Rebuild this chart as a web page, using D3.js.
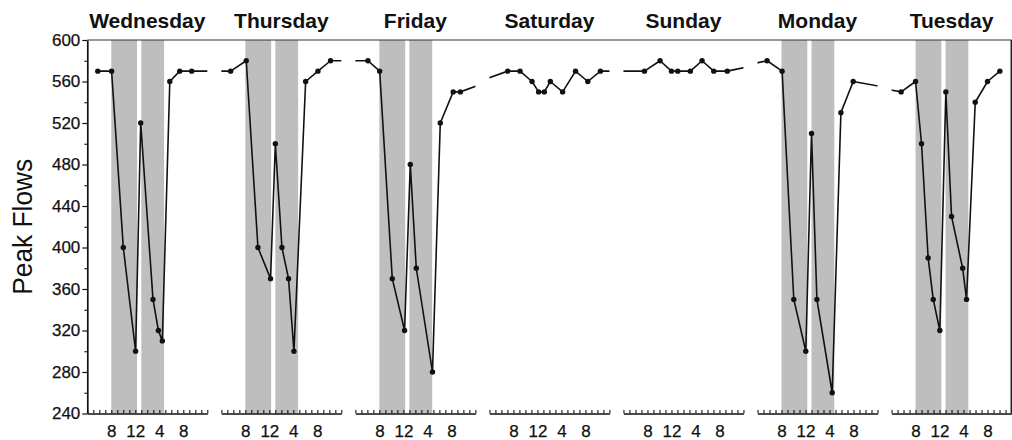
<!DOCTYPE html>
<html>
<head>
<meta charset="utf-8">
<script src="https://cdn.jsdelivr.net/npm/d3@7"></script>
<style>
  html, body { margin: 0; padding: 0; background: #fff; }
  svg { display: block; font-family: "Liberation Sans", Arial, Helvetica, sans-serif; }
</style>
</head>
<body>
<svg id="chart" width="1012" height="440"></svg>
<script>
// Day panels, left to right
const days = ["Wednesday", "Thursday", "Friday", "Saturday", "Sunday", "Monday", "Tuesday"];
// Days with the two shaded work shifts
const shiftDays = ["Wednesday", "Thursday", "Friday", "Monday", "Tuesday"];
// Shift start/end, hours of the day
const shiftBands = [[8, 12.3], [13, 16.8]];

// Reading times (hour of day) and peak flow values for each day
const readingHours = [
  [5.75, 8.05, 10.0, 12.05, 12.9, 14.95, 15.85, 16.5, 17.75, 19.4, 21.4],
  [5.55, 8.15, 10.1, 12.2, 13.0, 14.1, 15.2, 16.1, 18.05, 20.1, 22.2],
  [6.1, 8.05, 10.15, 12.2, 13.15, 14.15, 16.85, 18.15, 20.3, 21.5],
  [7.05, 9.1, 11.1, 12.2, 13.15, 14.15, 16.2, 18.35, 20.4, 22.5],
  [7.5, 10.1, 12.0, 13.05, 15.15, 17.1, 19.05, 21.3],
  [5.6, 8.1, 10.05, 12.05, 13.0, 13.9, 16.45, 17.9, 19.95],
  [5.6, 8.0, 9.0, 10.1, 10.95, 12.05, 13.05, 14.0, 15.85, 16.5, 17.95, 20.0, 22.05]
];
const peakFlows = [
  [570, 570, 400, 300, 520, 350, 320, 310, 560, 570, 570],
  [570, 580, 400, 370, 500, 400, 370, 300, 560, 570, 580],
  [580, 570, 370, 320, 480, 380, 280, 520, 550, 550],
  [570, 570, 560, 550, 550, 560, 550, 570, 560, 570],
  [570, 580, 570, 570, 570, 580, 570, 570],
  [580, 570, 350, 300, 510, 350, 260, 530, 560],
  [550, 560, 500, 390, 350, 320, 550, 430, 380, 350, 540, 560, 570]
];

// Axis ticks
const hourRange = [4, 24];
const hourTicks = d3.range(4, 25);
const hourLabelTicks = [8, 12, 16, 20];
const hourLabels = ["8", "12", "4", "8"];
const flowDomain = [240, 600];
const flowMajorTicks = [240, 280, 320, 360, 400, 440, 480, 520, 560, 600];
const flowMinorTicks = [260, 300, 340, 380, 420, 460, 500, 540, 580];

// Layout
const plotLeft = 87.3, step = 134.04, panelW = 120;
const plotTop = 40, plotBottom = 413.5;

const svg = d3.select("#chart");
const y = d3.scaleLinear().domain(flowDomain).range([plotBottom, plotTop]);

// Continuous series over the week: time = day index * 24 + hour
const series = [];
readingHours.forEach((hrs, d) => hrs.forEach((h, k) => series.push({ t: d * 24 + h, v: peakFlows[d][k], day: d })));

const defs = svg.append("defs");

days.forEach((name, d) => {
  const x0 = plotLeft + d * step;
  const x = d3.scaleLinear().domain([d * 24 + hourRange[0], d * 24 + hourRange[1]]).range([x0, x0 + panelW]);
  const g = svg.append("g").attr("class", "panel");

  // shaded work shifts
  if (shiftDays.includes(name)) {
    g.selectAll("rect.shift").data(shiftBands).join("rect")
      .attr("class", "shift")
      .attr("x", b => x(d * 24 + b[0]))
      .attr("width", b => x(d * 24 + b[1]) - x(d * 24 + b[0]))
      .attr("y", plotTop).attr("height", plotBottom - plotTop)
      .attr("fill", "#bebebe");
  }

  // line clipped to the panel so it runs off the edges toward neighbouring days
  const clipId = "clip" + d;
  defs.append("clipPath").attr("id", clipId).append("rect")
    .attr("x", x0).attr("y", 0).attr("width", panelW).attr("height", 440);
  const line = d3.line().x(p => x(p.t)).y(p => y(p.v));
  g.append("path").datum(series)
    .attr("clip-path", `url(#${clipId})`)
    .attr("fill", "none").attr("stroke", "#111").attr("stroke-width", 1.6)
    .attr("stroke-linejoin", "round")
    .attr("d", line);

  g.selectAll("circle").data(series.filter(p => p.day === d)).join("circle")
    .attr("cx", p => x(p.t)).attr("cy", p => y(p.v)).attr("r", 2.7)
    .attr("fill", "#111");

  // hour axis
  const ax = d3.axisBottom(x)
    .tickValues(hourTicks.map(h => d * 24 + h))
    .tickSizeInner(-3.5).tickSizeOuter(0).tickPadding(11)
    .tickFormat(t => {
      const i = hourLabelTicks.indexOf(t - d * 24);
      return i >= 0 ? hourLabels[i] : "";
    });
  const axg = g.append("g").attr("transform", `translate(0,${plotBottom})`).call(ax);
  axg.select(".domain").attr("stroke", "#111").attr("stroke-width", 1.6);
  axg.selectAll(".tick line").attr("stroke", "#111").attr("stroke-width", 1.1);
  axg.selectAll(".tick text").attr("font-size", 17).attr("fill", "#111")
    .attr("stroke", "#111").attr("stroke-width", 0.25);

  // day title
  svg.append("text")
    .attr("x", x0 + panelW / 2).attr("y", 28)
    .attr("text-anchor", "middle")
    .attr("font-size", 21).attr("font-weight", "bold").attr("fill", "#111")
    .text(name);
});

const plotRight = plotLeft + 6 * step + panelW;

// frame: top rule and right edge
svg.append("line").attr("x1", plotLeft).attr("x2", plotRight).attr("y1", plotTop).attr("y2", plotTop)
  .attr("stroke", "#333").attr("stroke-width", 1.2);
svg.append("line").attr("x1", plotRight).attr("x2", plotRight).attr("y1", plotTop).attr("y2", plotBottom)
  .attr("stroke", "#222").attr("stroke-width", 2);

// flow axis
const yMinor = svg.append("g").attr("transform", `translate(${plotLeft},0)`)
  .call(d3.axisLeft(y).tickValues(flowMinorTicks).tickSize(3).tickFormat(""));
yMinor.select(".domain").remove();
yMinor.selectAll(".tick line").attr("stroke", "#111").attr("stroke-width", 1.1);

const yAxis = svg.append("g").attr("transform", `translate(${plotLeft},0)`)
  .call(d3.axisLeft(y).tickValues(flowMajorTicks).tickSizeInner(5).tickSizeOuter(0).tickPadding(2));
yAxis.select(".domain").attr("stroke", "#111").attr("stroke-width", 1.7);
yAxis.selectAll(".tick line").attr("stroke", "#111").attr("stroke-width", 1.2);
yAxis.selectAll(".tick text").attr("font-size", 17).attr("fill", "#111")
  .attr("stroke", "#111").attr("stroke-width", 0.25);

svg.append("text")
  .attr("transform", `translate(32,${(plotTop + plotBottom) / 2}) rotate(-90)`)
  .attr("text-anchor", "middle")
  .attr("font-size", 27).attr("fill", "#111")
  .attr("textLength", 136).attr("lengthAdjust", "spacingAndGlyphs")
  .text("Peak Flows");
</script>
</body>
</html>
